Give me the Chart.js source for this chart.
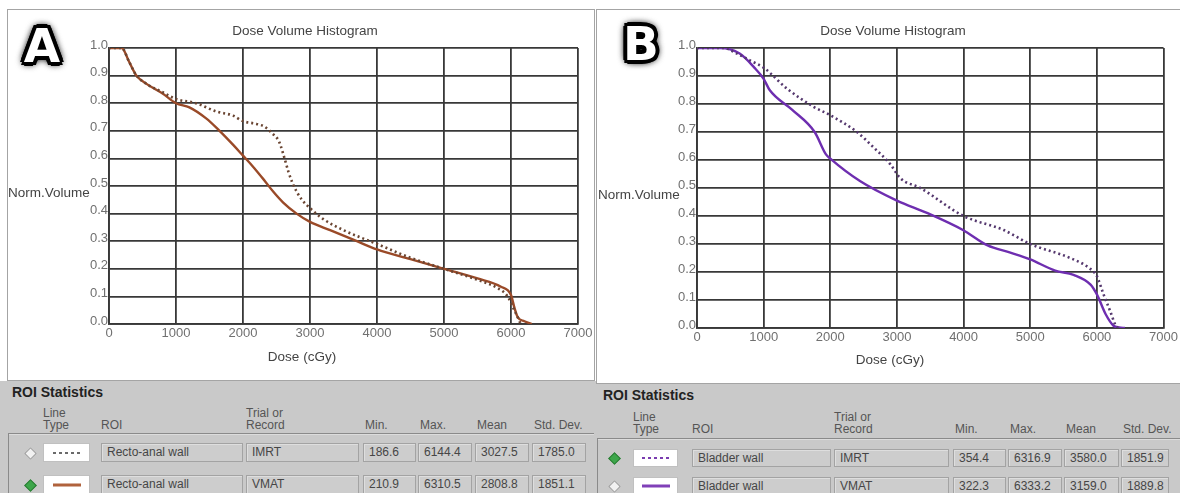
<!DOCTYPE html>
<html>
<head>
<meta charset="utf-8">
<script src="https://cdn.jsdelivr.net/npm/chart.js@4.4.1/dist/chart.umd.min.js"></script>
<style>
  html, body { margin: 0; padding: 0; }
  body { width: 1180px; height: 493px; position: relative; overflow: hidden; background: #c9c9c9;
         font-family: "Liberation Sans", Arial, sans-serif; }
  .abs { position: absolute; white-space: nowrap; }
  .panel { position: absolute; background: #fff; border: 1px solid #a4a4a4; box-sizing: border-box; }
  .big { position: absolute; width: 60px; text-align: center; font-family: "DejaVu Sans", sans-serif;
         font-weight: bold; font-size: 47px; line-height: 47px; color: #fff;
         text-shadow: -3px -3px 0 #000, 3px -3px 0 #000, -3px 3px 0 #000, 3px 3px 0 #000,
                      0 4px 0 #000, 0 -4px 0 #000, 4px 0 0 #000, -4px 0 0 #000,
                      0 0 7px #000, 0 0 10px #000, 0 0 10px #000; }
  .lbl { position: absolute; font-size: 13.5px; color: #444; white-space: nowrap; transform: translate(-50%, -50%); }
  .ylbl { position: absolute; font-size: 13.5px; color: #444; white-space: nowrap; transform: translateY(-50%); }
  .box { position: absolute; box-sizing: border-box; background: #cdcdcd; border: 1px solid #a3a3a3;
         box-shadow: inset 1px 1px 0 #dedede; font-size: 12px; color: #464646; padding-left: 5px; overflow: hidden; }
  .head { position: absolute; font-size: 12px; color: #555; line-height: 12px; white-space: nowrap; }
</style>
</head>
<body>
<div class="abs" style="left:0;top:0;width:1180px;height:381px;background:#fff"></div>
<div class="panel" style="left:7px;top:9px;width:588px;height:372px"></div>
<div class="panel" style="left:596px;top:9px;width:586px;height:375px"></div>

<div class="abs" style="left:8px;top:10px;width:590px;height:368px"><canvas id="chartA"></canvas></div>
<div class="abs" style="left:597px;top:10px;width:583px;height:372px"><canvas id="chartB"></canvas></div>

<div class="big" style="left:12px;top:22px">A</div>
<div class="big" style="left:611px;top:20px">B</div>

<div class="lbl" style="left:305px;top:30px">Dose Volume Histogram</div>
<div class="ylbl" style="left:8px;top:192px">Norm.Volume</div>
<div class="lbl" style="left:302px;top:356px">Dose (cGy)</div>

<div class="lbl" style="left:893px;top:30px">Dose Volume Histogram</div>
<div class="ylbl" style="left:598px;top:194px">Norm.Volume</div>
<div class="lbl" style="left:890px;top:359px">Dose (cGy)</div>

<div id="tables"></div>

<script>
// panel A: recto-anal wall
var doseA_imrt = [0, 190, 300, 410, 560, 800, 1000, 1300, 1600, 1850, 2000, 2200, 2320, 2440, 2540, 2620, 2680, 2740, 2800, 2880, 3000, 3200, 3500, 4000, 4500, 5000, 5500, 5800, 5950, 6030, 6090, 6144];
var volA_imrt  = [1.0, 1.0, 0.95, 0.90, 0.87, 0.84, 0.815, 0.80, 0.77, 0.755, 0.735, 0.725, 0.715, 0.69, 0.66, 0.60, 0.55, 0.51, 0.48, 0.45, 0.42, 0.38, 0.34, 0.29, 0.24, 0.20, 0.16, 0.13, 0.10, 0.06, 0.03, 0.0];
var doseA_vmat = [0, 190, 300, 410, 560, 800, 1000, 1200, 1450, 1650, 1850, 2000, 2150, 2320, 2450, 2600, 2800, 3000, 3300, 3700, 4000, 4500, 5000, 5500, 5850, 6000, 6050, 6100, 6200, 6310];
var volA_vmat  = [1.0, 1.0, 0.95, 0.90, 0.87, 0.835, 0.80, 0.785, 0.745, 0.70, 0.65, 0.61, 0.57, 0.52, 0.48, 0.44, 0.40, 0.37, 0.34, 0.30, 0.27, 0.235, 0.20, 0.165, 0.135, 0.105, 0.06, 0.025, 0.01, 0.0];

// panel B: bladder wall
var doseB_imrt = [0, 400, 600, 800, 1000, 1350, 1750, 2000, 2400, 2650, 2900, 3050, 3350, 4000, 4600, 5000, 5600, 5880, 6000, 6100, 6200, 6280, 6317];
var volB_imrt  = [1.0, 1.0, 0.98, 0.955, 0.93, 0.855, 0.79, 0.76, 0.70, 0.645, 0.585, 0.535, 0.50, 0.40, 0.35, 0.30, 0.25, 0.215, 0.185, 0.12, 0.06, 0.01, 0.0];
var doseB_vmat = [0, 350, 640, 860, 1000, 1090, 1425, 1765, 1935, 2000, 2445, 3000, 3460, 3990, 4360, 4690, 5000, 5375, 5650, 5905, 6000, 6130, 6250, 6333, 6420];
var volB_vmat  = [1.0, 1.0, 0.98, 0.93, 0.89, 0.85, 0.78, 0.70, 0.62, 0.605, 0.525, 0.455, 0.41, 0.35, 0.295, 0.27, 0.245, 0.205, 0.19, 0.155, 0.12, 0.05, 0.008, 0.002, 0.0];

// ROI statistics
var headers = ['Min.', 'Max.', 'Mean', 'Std. Dev.'];
var roiA = ['Recto-anal wall', 'Recto-anal wall'];
var roiB = ['Bladder wall', 'Bladder wall'];
var trials = ['IMRT', 'VMAT'];
var statsA = [['186.6', '6144.4', '3027.5', '1785.0'], ['210.9', '6310.5', '2808.8', '1851.1']];
var statsB = [['354.4', '6316.9', '3580.0', '1851.9'], ['322.3', '6333.2', '3159.0', '1889.8']];

var FONT = '"Liberation Sans", Arial, sans-serif';

function pts(xs, ys) {
  return xs.map(function (x, i) { return { x: x, y: ys[i] }; });
}

function dvh(id, sets, axisW, padRight) {
  new Chart(document.getElementById(id).getContext('2d'), {
    type: 'line',
    data: {
      datasets: sets.map(function (s) {
        return {
          label: s.label, data: s.data, borderColor: s.color, borderWidth: s.dash ? 2.6 : 2.4,
          borderDash: s.dash || [], pointRadius: 0, fill: false, cubicInterpolationMode: 'monotone'
        };
      })
    },
    options: {
      responsive: true, maintainAspectRatio: false, animation: false,
      layout: { padding: { top: 38, right: padRight, left: 0, bottom: 0 } },
      plugins: { legend: { display: false }, title: { display: false }, tooltip: { enabled: false } },
      scales: {
        x: {
          type: 'linear', min: 0, max: 7000,
          ticks: { stepSize: 1000, autoSkip: false, maxRotation: 0, padding: 2, color: '#707070', font: { family: FONT, size: 13 },
                   callback: function (v) { return String(v); } },
          grid: { color: '#383838', lineWidth: 1.8, drawTicks: false },
          border: { color: '#383838', width: 1.8 },
          afterFit: function (s) { s.height = 54; }
        },
        y: {
          min: 0, max: 1,
          ticks: { stepSize: 0.1, autoSkip: false, padding: 1, labelOffset: -3, color: '#707070', font: { family: FONT, size: 13 },
                   callback: function (v) { return v.toFixed(1); } },
          grid: { color: '#383838', lineWidth: 1.8, drawTicks: false },
          border: { color: '#383838', width: 1.8 },
          afterFit: function (s) { s.width = axisW; }
        }
      }
    }
  });
}

dvh('chartA', [
  { label: 'IMRT', data: pts(doseA_imrt, volA_imrt), color: '#6a4532', dash: [2, 3] },
  { label: 'VMAT', data: pts(doseA_vmat, volA_vmat), color: '#9a4a28' }
], 101, 20);

dvh('chartB', [
  { label: 'IMRT', data: pts(doseB_imrt, volB_imrt), color: '#55386e', dash: [2, 3] },
  { label: 'VMAT', data: pts(doseB_vmat, volB_vmat), color: '#6e2eb0' }
], 100, 15);

// stats tables (plain html)
var root = document.getElementById('tables');
function el(cls, css, text) {
  var d = document.createElement('div');
  d.className = cls;
  d.style.cssText = css;
  if (text !== undefined) d.textContent = text;
  root.appendChild(d);
  return d;
}

function table(t) {
  el('abs', 'left:' + t.x0 + 'px;top:' + (t.titleY - 9) + 'px;font-size:14px;font-weight:bold;color:#222', 'ROI Statistics');
  el('head', 'left:' + t.lineX + 'px;top:' + (t.headY - 12) + 'px', 'Line');
  el('head', 'left:' + t.lineX + 'px;top:' + t.headY + 'px', 'Type');
  el('head', 'left:' + t.cols[0][0] + 'px;top:' + t.headY + 'px', 'ROI');
  el('head', 'left:' + t.cols[1][0] + 'px;top:' + (t.headY - 12) + 'px', 'Trial or');
  el('head', 'left:' + t.cols[1][0] + 'px;top:' + t.headY + 'px', 'Record');
  headers.forEach(function (h, i) {
    el('head', 'left:' + (t.cols[i + 2][0] + 2) + 'px;top:' + t.headY + 'px', h);
  });
  // recessed frame
  el('abs', 'left:' + t.frameL + 'px;top:' + t.frameT + 'px;width:' + t.frameW + 'px;height:1px;background:#8a8a8a');
  el('abs', 'left:' + t.frameL + 'px;top:' + (t.frameT + 1) + 'px;width:' + t.frameW + 'px;height:1px;background:#dcdcdc');
  el('abs', 'left:' + t.frameL + 'px;top:' + t.frameT + 'px;width:1px;height:80px;background:#8a8a8a');

  t.rows.forEach(function (r, k) {
    var top = t.rowTops[k], h = t.rowH;
    // selection diamond
    el('abs', 'left:' + (t.iconX - 4) + 'px;top:' + (top + h / 2 - 4) + 'px;width:7px;height:7px;transform:rotate(45deg);' +
      (r.sel ? 'background:#3da64a;border:1px solid #2b7b35' : 'background:#f1f1f1;border:1px solid #9a9a9a'));
    // line type sample
    var lt = el('abs', 'left:' + t.lineBox[0] + 'px;top:' + top + 'px;width:' + (t.lineBox[1] - t.lineBox[0]) + 'px;height:' + h + 'px;background:#fff;border:1px solid #c0c0c0;box-sizing:border-box');
    var sample = document.createElement('div');
    sample.style.cssText = 'position:absolute;left:50%;top:50%;width:28px;transform:translate(-50%,-50%);' +
      (r.dash ? 'height:2px;background:repeating-linear-gradient(90deg,' + r.lineColor + ' 0 3px,transparent 3px 6px)'
              : 'height:3px;background:' + r.lineColor);
    lt.appendChild(sample);
    var texts = [r.roi, r.trial].concat(r.stats);
    texts.forEach(function (txt, i) {
      el('box', 'left:' + t.cols[i][0] + 'px;top:' + top + 'px;width:' + (t.cols[i][1] - t.cols[i][0]) + 'px;height:' + h + 'px;line-height:' + (h - 2) + 'px', txt);
    });
  });
}

table({
  x0: 12, titleY: 393, headY: 419, lineX: 43,
  frameL: 8, frameT: 433, frameW: 586,
  iconX: 30, lineBox: [43, 90], rowTops: [443, 475], rowH: 19,
  cols: [[101, 243], [246, 359], [363, 416], [418, 472], [475, 529], [532, 586]],
  rows: [
    { roi: roiA[0], trial: trials[0], stats: statsA[0], dash: true, lineColor: '#6a6a6a', sel: false },
    { roi: roiA[1], trial: trials[1], stats: statsA[1], dash: false, lineColor: '#b0623c', sel: true }
  ]
});

table({
  x0: 603, titleY: 396, headY: 423, lineX: 633,
  frameL: 597, frameT: 438, frameW: 583,
  iconX: 614, lineBox: [633, 678], rowTops: [449, 477], rowH: 18,
  cols: [[692, 831], [834, 949], [953, 1006], [1008, 1062], [1064, 1119], [1121, 1169]],
  rows: [
    { roi: roiB[0], trial: trials[0], stats: statsB[0], dash: true, lineColor: '#7a3cb0', sel: true },
    { roi: roiB[1], trial: trials[1], stats: statsB[1], dash: false, lineColor: '#8040b8', sel: false }
  ]
});
</script>
</body>
</html>
